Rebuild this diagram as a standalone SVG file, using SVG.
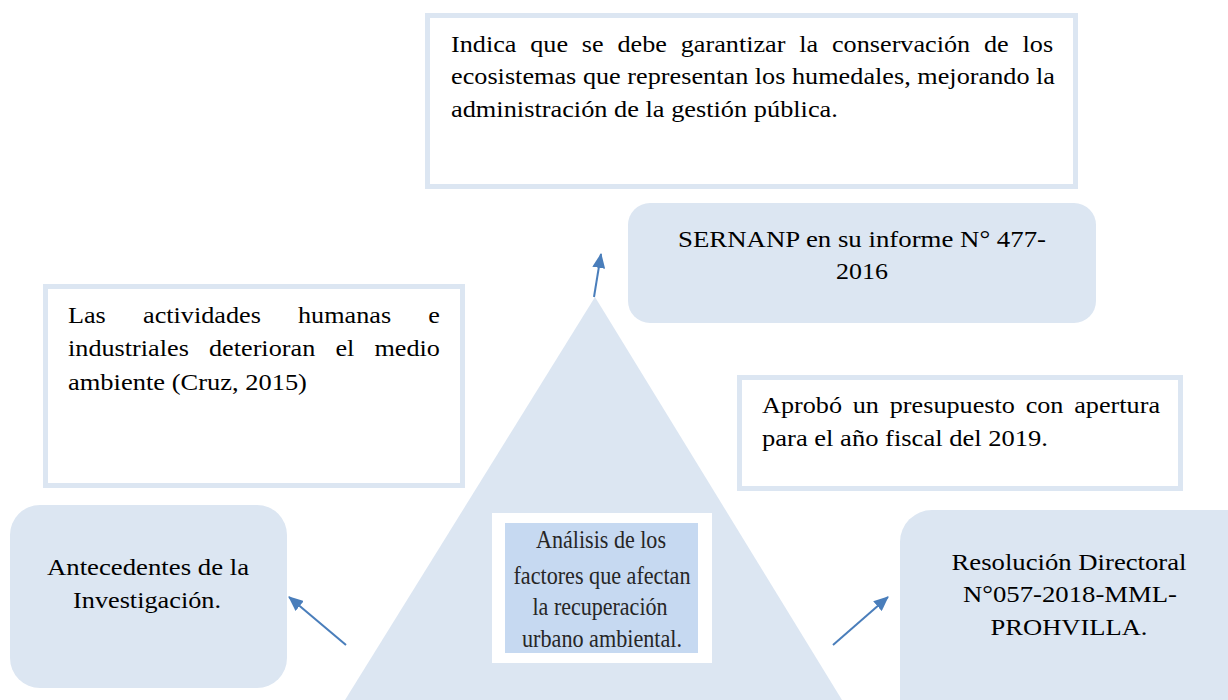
<svg xmlns="http://www.w3.org/2000/svg" width="1228" height="700" viewBox="0 0 1228 700">
  <defs>
    <style>
      .t { font-family: "Liberation Serif", "Times New Roman", serif; font-size: 23.5px; fill: #000; }
      .m { text-anchor: middle; }
      .c { font-family: "Liberation Serif", "Times New Roman", serif; font-size: 25px; fill: #262626; text-anchor: middle; }
      .box { fill: #ffffff; stroke: #dce6f2; stroke-width: 5; }
      .rbox { fill: #dce6f2; stroke: none; }
      .conn { stroke: #4a7ebb; stroke-width: 2; fill: none; marker-end: url(#ah); }
    </style>
    <marker id="ah" markerUnits="userSpaceOnUse" markerWidth="16" markerHeight="13" refX="14" refY="6.5" orient="auto">
      <path d="M0,0 L15,6.5 L0,13 Z" fill="#4a7ebb"/>
    </marker>
  </defs>
  <rect x="0" y="0" width="1228" height="700" fill="#ffffff"/>

  <g id="triangle">
    <polygon points="595,297 345,700 842,700" fill="#dce6f2"/>
  </g>

  <g id="node-indica">
    <rect class="box" x="427.5" y="15.5" width="648" height="171"/>
    <text class="t" transform="translate(451,52) scale(1.115,1)" word-spacing="6.5" textLength="540" lengthAdjust="spacing">Indica que se debe garantizar la conservación de los</text>
    <text class="t" transform="translate(451,84) scale(1.115,1)" textLength="541.7" lengthAdjust="spacing">ecosistemas que representan los humedales, mejorando la</text>
    <text class="t" transform="translate(451,117) scale(1.115,1)" textLength="347" lengthAdjust="spacingAndGlyphs">administración de la gestión pública.</text>
  </g>

  <g id="node-sernanp">
    <rect class="rbox" x="628" y="203" width="468" height="120" rx="22"/>
    <text class="t m" transform="translate(862,247) scale(1.115,1)" textLength="330" lengthAdjust="spacingAndGlyphs">SERNANP en su informe N° 477-</text>
    <text class="t m" transform="translate(862,279) scale(1.115,1)" textLength="46.6" lengthAdjust="spacingAndGlyphs">2016</text>
  </g>

  <g id="node-actividades">
    <rect class="box" x="45.5" y="286.5" width="417" height="199"/>
    <text class="t" transform="translate(68,323) scale(1.115,1)" word-spacing="27.5" textLength="333.6" lengthAdjust="spacing">Las actividades humanas e</text>
    <text class="t" transform="translate(68,356) scale(1.115,1)" word-spacing="12.2" textLength="333.6" lengthAdjust="spacing">industriales deterioran el medio</text>
    <text class="t" transform="translate(68,390) scale(1.115,1)" textLength="214.3" lengthAdjust="spacingAndGlyphs">ambiente (Cruz, 2015)</text>
  </g>

  <g id="node-aprobo">
    <rect class="box" x="739.5" y="377.5" width="441" height="111"/>
    <text class="t" transform="translate(762,413) scale(1.115,1)" word-spacing="3.75" textLength="357" lengthAdjust="spacing">Aprobó un presupuesto con apertura</text>
    <text class="t" transform="translate(762,446) scale(1.115,1)" textLength="256.5" lengthAdjust="spacingAndGlyphs">para el año fiscal del 2019.</text>
  </g>

  <g id="node-antecedentes">
    <rect class="rbox" x="10" y="505" width="277" height="183" rx="30"/>
    <text class="t m" transform="translate(148,575) scale(1.115,1)" textLength="181.2" lengthAdjust="spacingAndGlyphs">Antecedentes de la</text>
    <text class="t m" transform="translate(147,608) scale(1.115,1)" textLength="132.7" lengthAdjust="spacingAndGlyphs">Investigación.</text>
  </g>

  <g id="node-resolucion">
    <rect class="rbox" x="900" y="510" width="360" height="230" rx="32"/>
    <text class="t m" transform="translate(1069,570) scale(1.115,1)" textLength="210.8" lengthAdjust="spacingAndGlyphs">Resolución Directoral</text>
    <text class="t m" transform="translate(1070,602) scale(1.115,1)" textLength="191.9" lengthAdjust="spacingAndGlyphs">N°057-2018-MML-</text>
    <text class="t m" transform="translate(1069,635) scale(1.115,1)" textLength="140.8" lengthAdjust="spacingAndGlyphs">PROHVILLA.</text>
  </g>

  <g id="node-analisis">
    <rect x="492" y="513" width="220" height="150" fill="#ffffff"/>
    <rect x="505" y="523" width="193" height="130" fill="#c6d9f1"/>
    <text class="c" x="601" y="548" textLength="130" lengthAdjust="spacingAndGlyphs">Análisis de los</text>
    <text class="c" x="602" y="584" textLength="177" lengthAdjust="spacingAndGlyphs">factores que afectan</text>
    <text class="c" x="600" y="615" textLength="135" lengthAdjust="spacingAndGlyphs">la recuperación</text>
    <text class="c" x="602" y="647" textLength="160" lengthAdjust="spacingAndGlyphs">urbano ambiental.</text>
  </g>

  <g id="connectors">
    <line class="conn" x1="346" y1="645" x2="289" y2="597"/>
    <line class="conn" x1="833" y1="645" x2="888" y2="597"/>
    <line class="conn" x1="594" y1="297" x2="601" y2="254"/>
  </g>
</svg>
